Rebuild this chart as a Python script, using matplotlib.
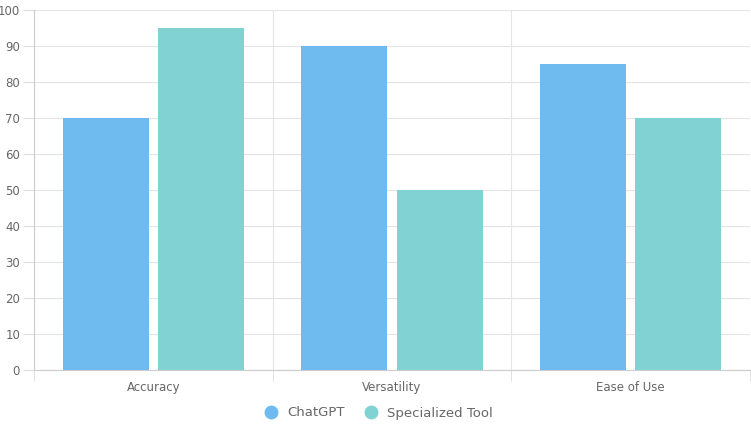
import matplotlib
matplotlib.use("Agg")
import matplotlib.pyplot as plt
import numpy as np
from matplotlib.lines import Line2D

categories = ["Accuracy", "Versatility", "Ease of Use"]
chatgpt = [70, 90, 85]
specialized = [95, 50, 70]
series_names = ["ChatGPT", "Specialized Tool"]
colors = ["#6fbbf0", "#81d3d3"]
yticks = list(range(0, 101, 10))

fig = plt.figure(figsize=(7.51, 4.33), dpi=100)
ax = fig.add_axes([34/751, 63/433, 716/751, 360/433])
x = np.arange(len(categories))
w = 0.36
ax.bar(x - 0.2, chatgpt, w, color=colors[0], zorder=3)
ax.bar(x + 0.2, specialized, w, color=colors[1], zorder=3)

ax.set_xlim(-0.5, 2.5)
ax.set_ylim(0, 100)
ax.set_yticks(yticks)
ax.set_xticks(x)
ax.set_xticklabels(categories)
ax.set_xticks([-0.5, 0.5, 1.5, 2.5], minor=True)
ax.tick_params(axis="x", which="major", length=0, pad=8, labelsize=8.5, labelcolor="#666666")
ax.tick_params(axis="x", which="minor", length=8, color="#dddddd")
ax.tick_params(axis="y", length=8, color="#dddddd", labelsize=8.5, labelcolor="#666666", pad=2)
ax.grid(axis="y", color="#e5e5e5", linewidth=0.8, zorder=0)
ax.grid(axis="x", which="minor", color="#e5e5e5", linewidth=0.8, zorder=0)
for s in ["top", "right"]:
    ax.spines[s].set_visible(False)
for s in ["left", "bottom"]:
    ax.spines[s].set_color("#cccccc")

handles = [Line2D([], [], marker="o", linestyle="", markersize=9, markerfacecolor=c, markeredgecolor=c) for c in colors]
fig.legend(handles, series_names, loc="center", bbox_to_anchor=(0.5, 1 - 413/433), ncol=2, frameon=False,
           fontsize=9.5, labelcolor="#666666", handletextpad=0.2, columnspacing=1.0)
fig.savefig("out.png", dpi=100)
